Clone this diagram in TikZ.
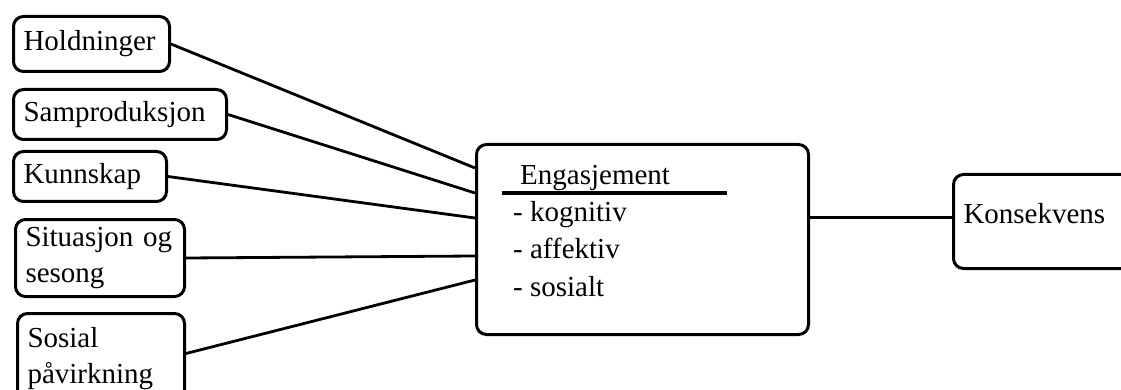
\documentclass[tikz,border=0pt]{standalone}
\usepackage{fontspec}
\setmainfont{Liberation Serif}
\tikzset{
  box/.style={draw, rounded corners=10pt, line width=3pt, inner xsep=10pt, inner ysep=0pt, align=left},
  link/.style={line width=2.8pt},
  rule/.style={line width=3.6pt}
}
\begin{document}
\begin{tikzpicture}[x=1pt, y=-1pt, font=\fontsize{29}{36}\selectfont]
  \useasboundingbox (0,0) rectangle (1121,390);
  % faktorer til venstre
  \node[box, anchor=north west, text width=136pt, minimum height=55pt] (hold) at (12,15) {Holdninger};
  \node[box, anchor=north west, text width=193pt, minimum height=50pt] (samp) at (12,88) {Samproduksjon};
  \node[box, anchor=north west, text width=133pt, minimum height=50pt] (kunn) at (12,150) {Kunnskap};
  \node[box, anchor=north west, text width=149pt, minimum height=77pt] (sit) at (14,218) {Situasjon og\\sesong};
  \node[box, anchor=north west, text width=147pt, minimum height=90pt] (sos) at (16,312) {Sosial\\påvirkning};
  % engasjement
  \node[box, anchor=north west, minimum width=332pt, minimum height=190pt] (eng) at (475,143) {};
  \node[anchor=base west, inner sep=0pt] (engtitle) at ([xshift=45pt, yshift=-42pt]eng.north west) {Engasjement};
  \coordinate (ulA) at ([xshift=27pt, yshift=-50pt]eng.north west);
  \coordinate (ulB) at ([xshift=252pt, yshift=-50pt]eng.north west);
  \draw[rule] (ulA) -- (ulB);
  \foreach \t/\d [count=\i] in {kognitiv/78, affektiv/115, sosialt/153}
    \node[anchor=base west, inner sep=0pt] (item\i) at ([xshift=38pt, yshift=-\d pt]eng.north west) {- \t};
  % konsekvens
  \node[box, anchor=north west, text width=180pt, text depth=17pt, minimum height=94pt] (kons) at (952,173) {Konsekvens};
  % linjer
  \foreach \n/\d in {hold/25, samp/50, kunn/75, sit/113}
    \draw[link] (\n.east) -- ([yshift=-\d pt]eng.north west);
  \draw[link] ([yshift=5pt]sos.east) -- ([yshift=-137pt]eng.north west);
  \draw[link] ([yshift=4pt]kons.west -| eng.east) -- ([yshift=4pt]kons.west);
\end{tikzpicture}
\end{document}
